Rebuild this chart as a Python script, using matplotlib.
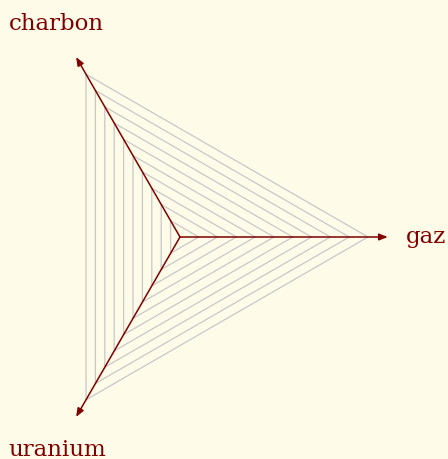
import numpy as np
import matplotlib.pyplot as plt

categories = ["gaz", "charbon", "uranium"]
angles_deg = [0, 120, 240]
levels = [0.1, 0.2, 0.3, 0.4, 0.5, 0.6, 0.7, 0.8, 0.9, 1.0]

bg = "#fefbe8"
red = "#800000"
grid_col = "#c8c8c8"

fig = plt.figure(figsize=(4.48, 4.59), dpi=100, facecolor=bg)
ax = fig.add_axes([0, 0, 1, 1])
ax.set_facecolor(bg)

ang = np.radians(angles_deg)

# grid triangles
for r in levels:
    xs = r * np.cos(np.append(ang, ang[0]))
    ys = r * np.sin(np.append(ang, ang[0]))
    ax.plot(xs, ys, color=grid_col, lw=0.9, zorder=1)

# axes with arrows and labels
for name, a in zip(categories, ang):
    ax.annotate("", xy=(1.105 * np.cos(a), 1.105 * np.sin(a)), xytext=(0, 0),
                arrowprops=dict(arrowstyle="-|>,head_length=0.5,head_width=0.2",
                                color=red, lw=1.1, shrinkA=0, shrinkB=0),
                zorder=3)
    ax.text(1.31 * np.cos(a), 1.31 * np.sin(a), name, color=red,
            family="DejaVu Serif", fontsize=16.5, ha="center", va="center")

ax.set_xlim(-180 / 188, (448 - 180) / 188)
ax.set_ylim(-(459 - 237) / 188, 237 / 188)
ax.axis("off")

plt.savefig("out.png", facecolor=bg)
